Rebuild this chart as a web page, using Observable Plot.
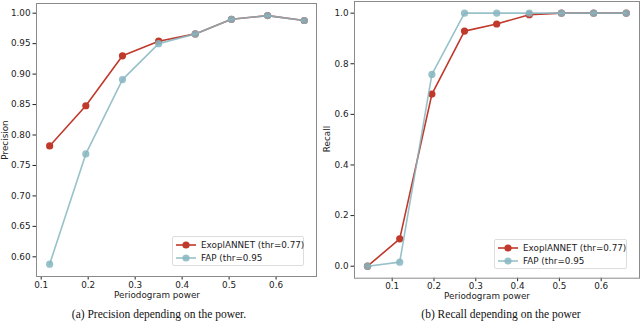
<!DOCTYPE html>
<html><head><meta charset="utf-8">
<script src="https://cdn.jsdelivr.net/npm/d3@7"></script>
<script src="https://cdn.jsdelivr.net/npm/@observablehq/plot@0.6"></script>
<style>
body{margin:0;background:#fff;}
#wrap{position:relative;width:640px;height:324px;overflow:hidden;font-family:"DejaVu Sans",sans-serif;}
.p{position:absolute;top:0;}
.lab{position:absolute;font-size:8.8px;line-height:1;color:#222;white-space:nowrap;transform:translate(-50%,-50%);}
.cap{position:absolute;font-family:"Liberation Serif",serif;font-size:11.5px;line-height:1;color:#111;white-space:nowrap;transform:translate(-50%,-50%);}
.leg{position:absolute;border:1px solid #ddd;border-radius:2px;background:#fff;font-size:8.8px;color:#222;}
.row{position:absolute;left:3px;display:flex;align-items:center;height:12px;white-space:nowrap;}
.row svg{margin-right:5px;}
</style></head><body>
<div id="wrap"></div>
<script>
// Data
const powerA = [0.118, 0.195, 0.273, 0.350, 0.428, 0.505, 0.582, 0.660];
const precisionExo = [0.782, 0.848, 0.930, 0.954, 0.966, 0.990, 0.996, 0.988];
const precisionFap = [0.588, 0.769, 0.891, 0.950, 0.966, 0.990, 0.996, 0.988];
const powerB = [0.041, 0.118, 0.195, 0.273, 0.350, 0.428, 0.505, 0.582, 0.660];
const recallExo = [0.0, 0.108, 0.680, 0.929, 0.957, 0.994, 1.0, 1.0, 1.0];
const recallFap = [0.0, 0.016, 0.758, 1.0, 1.0, 1.0, 1.0, 1.0, 1.0];
const seriesNames = ["ExoplANNET (thr=0.77)", "FAP (thr=0.95"];
const xTicksA = [0.1, 0.2, 0.3, 0.4, 0.5, 0.6];
const yTicksA = [0.60, 0.65, 0.70, 0.75, 0.80, 0.85, 0.90, 0.95, 1.00];
const yTicksB = [0.0, 0.2, 0.4, 0.6, 0.8, 1.0];

const RED = "#c0392b", BLUE = "#86b6c1";
const wrap = document.getElementById("wrap");

function mk(xs, ys1, ys2, opts) {
  const d1 = xs.map((x, i) => ({x, y: ys1[i]}));
  const d2 = xs.map((x, i) => ({x, y: ys2[i]}));
  return Plot.plot({
    width: 320, height: 300,
    marginLeft: opts.ml, marginRight: opts.mr, marginTop: opts.mt, marginBottom: opts.mb,
    style: {fontFamily: "DejaVu Sans, sans-serif", fontSize: "8.8px", color: "#222", background: "transparent"},
    x: {domain: opts.xd, ticks: xTicksA, tickFormat: ".1f", tickSize: 3.5, tickPadding: 1.5, label: null},
    y: {domain: opts.yd, ticks: opts.yt, tickFormat: opts.yf, tickSize: 3.5, tickPadding: 2.5, label: null},
    marks: [
      Plot.lineY(d1, {x: "x", y: "y", stroke: RED, strokeWidth: 1.6}),
      Plot.dot(d1, {x: "x", y: "y", fill: RED, r: 3.6}),
      Plot.lineY(d2, {x: "x", y: "y", stroke: BLUE, strokeWidth: 1.6, strokeOpacity: 0.85}),
      Plot.dot(d2, {x: "x", y: "y", fill: BLUE, fillOpacity: 0.85, r: 3.6}),
      Plot.frame({stroke: "#8a8a8a", strokeWidth: 1})
    ]
  });
}

const a = mk(powerA, precisionExo, precisionFap, {ml: 36, mr: 4, mt: 3, mb: 24, xd: [0.09, 0.686], yd: [0.5677, 1.0159], yt: yTicksA, yf: ".2f"});
a.classList.add("p"); a.style.left = "0px";
wrap.appendChild(a);
const b = mk(powerB, recallExo, recallFap, {ml: 34, mr: 1, mt: 1, mb: 22.3, xd: [0.0098, 0.6917], yd: [-0.0474, 1.046], yt: yTicksB, yf: ".1f"});
b.classList.add("p"); b.style.left = "320px";
wrap.appendChild(b);

function addDiv(cls, html, css) {
  const d = document.createElement("div");
  d.className = cls; d.innerHTML = html; Object.assign(d.style, css);
  wrap.appendChild(d); return d;
}
// axis labels (centered at given point)
addDiv("lab", "Periodogram power", {left: "157px", top: "295px"});
addDiv("lab", "Periodogram power", {left: "487px", top: "296px"});
addDiv("lab", "Precision", {left: "5px", top: "140px", transform: "translate(-50%,-50%) rotate(-90deg)"});
addDiv("lab", "Recall", {left: "327px", top: "139px", transform: "translate(-50%,-50%) rotate(-90deg)"});
// captions
addDiv("cap", "(a) Precision depending on the power.", {left: "159px", top: "315px"});
addDiv("cap", "(b) Recall depending on the power", {left: "501px", top: "315px"});

function swatch(c, op) {
  return `<svg width="20" height="10"><line x1="0" y1="5" x2="20" y2="5" stroke="${c}" stroke-width="1.6" stroke-opacity="${op}"/><circle cx="10" cy="5" r="3.6" fill="${c}" fill-opacity="${op}"/></svg>`;
}
function legend(left, top, w, h) {
  const l = addDiv("leg", "", {left: left + "px", top: top + "px", width: w + "px", height: h + "px"});
  const r1 = document.createElement("div"); r1.className = "row"; r1.style.top = "2px";
  r1.innerHTML = swatch(RED, 1) + `<span>${seriesNames[0]}</span>`;
  const r2 = document.createElement("div"); r2.className = "row"; r2.style.top = "15px";
  r2.innerHTML = swatch(BLUE, 0.85) + `<span>${seriesNames[1]}</span>`;
  l.appendChild(r1); l.appendChild(r2);
}
legend(172, 236, 130, 28);
legend(494, 239, 131, 28);
</script>
</body></html>
